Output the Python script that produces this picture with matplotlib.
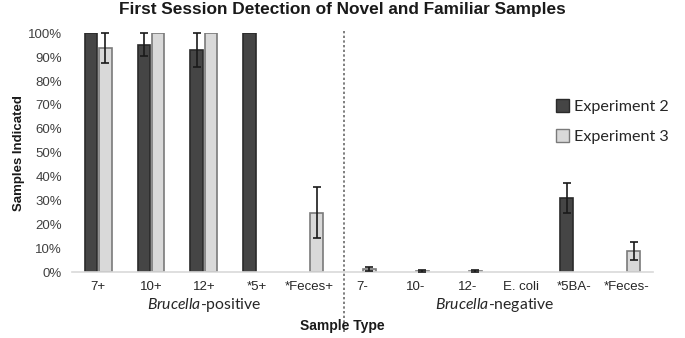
import numpy as np
import matplotlib
matplotlib.use("Agg")
import matplotlib.pyplot as plt
from matplotlib.patches import Patch
from matplotlib.lines import Line2D

categories = ["7+", "10+", "12+", "*5+", "*Feces+", "7-", "10-", "12-", "E. coli", "*5BA-", "*Feces-"]
exp2_values = [100, 95.3, 93.0, 100, 0, 0, 0, 0, 0, 31.0, 0]
exp2_errors = [0, 4.7, 7.0, 0, 0, 0, 0, 0, 0, 6.3, 0]
exp3_values = [93.8, 100, 100, 0, 25.0, 1.3, 0.6, 0.6, 0, 0, 8.9]
exp3_errors = [6.2, 0, 0, 0, 10.5, 0.8, 0.5, 0.5, 0, 0, 3.6]
series_names = ["Experiment 2", "Experiment 3"]
group_names = ["Brucella-positive", "Brucella-negative"]

plt.rcParams["mathtext.fontset"] = "custom"
plt.rcParams["mathtext.rm"] = "Lato"
plt.rcParams["mathtext.it"] = "Lato:italic"

narrow = ["Liberation Sans Narrow", "Liberation Sans", "DejaVu Sans"]
arial = ["Liberation Sans", "DejaVu Sans"]
calib = ["Lato", "DejaVu Sans"]

fig = plt.figure(figsize=(6.85, 3.38), dpi=100)
ax = fig.add_axes([0.1047, 0.1944, 0.8486, 0.7071])

x = np.arange(len(categories))
w = 0.24
off = 0.135
dark = "#454545"
dark_edge = "#2a2a2a"
light = "#d9d9d9"
light_edge = "#7a7a7a"

def draw(vals, errs, shift, fc, ec):
    for xi, v, e in zip(x, vals, errs):
        if v == 0 and e == 0:
            continue
        ax.bar(xi + shift, v / 100.0, width=w, color=fc, edgecolor=ec, linewidth=1.2, zorder=2)
        if e > 0:
            ax.errorbar(xi + shift, v / 100.0, yerr=e / 100.0, fmt="none", ecolor="#1a1a1a",
                        elinewidth=1.2, capsize=3.2, capthick=1.2, zorder=3, clip_on=False)

draw(exp2_values, exp2_errors, -off, dark, dark_edge)
draw(exp3_values, exp3_errors, off, light, light_edge)

ax.set_xlim(-0.5, len(categories) - 0.5)
ax.set_ylim(0, 1.0)
ax.set_yticks(np.arange(0, 1.01, 0.1))
ax.set_yticklabels([f"{int(round(t*100))}%" for t in np.arange(0, 1.01, 0.1)],
                   fontfamily=narrow, fontsize=9.5, color="#404040")
ax.set_xticks(x)
ax.set_xticklabels(categories, fontfamily=narrow, fontsize=9.5, color="#262626")
ax.tick_params(axis="both", length=0)
ax.tick_params(axis="x", pad=6)
ax.tick_params(axis="y", pad=7)
for s in ["top", "right", "left"]:
    ax.spines[s].set_visible(False)
ax.spines["bottom"].set_color("#d9d9d9")
ax.spines["bottom"].set_linewidth(1.2)

# separator
sep = Line2D([4.655, 4.655], [1.01, -0.26], transform=ax.get_xaxis_transform(),
             color="#7f7f7f", linestyle=(0, (1.2, 1.2)), linewidth=1.4, clip_on=False)
ax.add_line(sep)

fig.text(0.5, 1 - 9.5 / 338, "First Session Detection of Novel and Familiar Samples",
         ha="center", va="center", fontfamily=arial, fontweight="bold", fontsize=12.4,
         color="#1a1a1a")
ax.set_ylabel("Samples Indicated", fontfamily=arial, fontweight="bold", fontsize=9.5,
              color="#1a1a1a", labelpad=2)
fig.text(0.5, 0.035, "Sample Type", ha="center", va="center", fontfamily=arial,
         fontweight="bold", fontsize=10, color="#1a1a1a")

for gx, name in zip([2.0, 7.5], group_names):
    base, rest = name.split("-", 1)
    ax.text(gx, -0.135, f"$\\it{{{base}}}$" + "-" + rest, transform=ax.get_xaxis_transform(),
            ha="center", va="center", fontsize=11.3, fontfamily=calib, color="#262626")

handles = [Patch(facecolor=dark, edgecolor=dark_edge, linewidth=1.0),
           Patch(facecolor=light, edgecolor=light_edge, linewidth=1.0)]
leg = fig.legend(handles, series_names, loc="center left", bbox_to_anchor=(0.79, 0.64),
                 frameon=False, prop={"family": calib, "size": 11.6}, handlelength=0.85,
                 handleheight=0.85, handletextpad=0.3, labelspacing=0.95, labelcolor="#262626")

fig.savefig("out.png", dpi=100)
